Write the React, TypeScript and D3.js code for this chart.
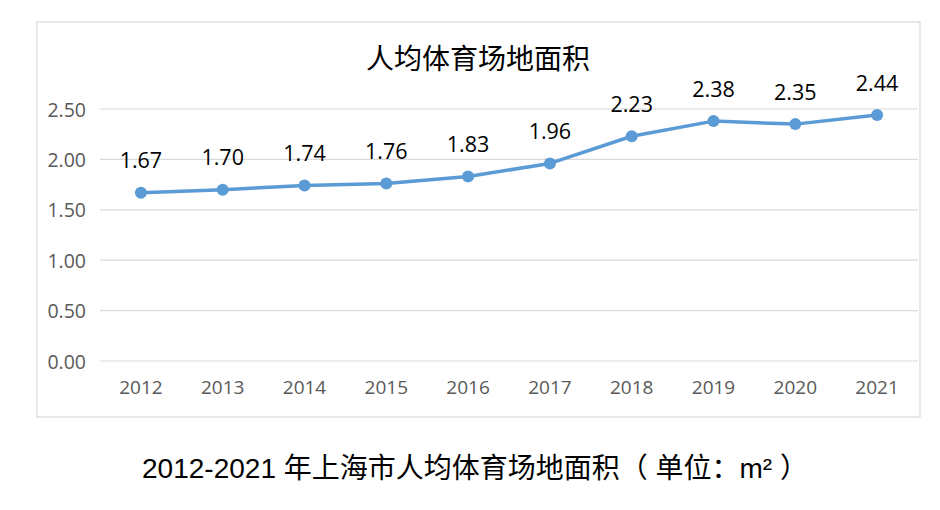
import React from "react";
import * as d3 from "d3";

const years = ["2012","2013","2014","2015","2016","2017","2018","2019","2020","2021"];
const values = [1.67,1.70,1.74,1.76,1.83,1.96,2.23,2.38,2.35,2.44];
const yTicks = [0, 0.5, 1.0, 1.5, 2.0, 2.5];
const chartTitle = "人均体育场地面积";
const caption = "2012-2021 年上海市人均体育场地面积（ 单位：m² ）";

export default function App() {
  const W = 940, H = 510;
  const x = d3.scaleBand<string>().domain(years).range([100, 918]);
  const y = d3.scaleLinear().domain([0, 2.5]).range([361, 109]);
  const line = d3.line<number>()
    .x((_, i) => (x(years[i]) as number) + x.bandwidth() / 2)
    .y(d => y(d));
  const font = "'Open Sans', 'Noto Sans', sans-serif";
  const cjk = "'Noto Sans CJK SC', sans-serif";
  return (
    <svg width={W} height={H} style={{ position: "absolute", left: 0, top: 0 }}>
      <rect x={0} y={0} width={W} height={H} fill="#fff" />
      <rect x={37} y={22} width={883} height={395} fill="#fff" stroke="#d9d9d9" strokeWidth={1.2} />
      <text x={478} y={57} textAnchor="middle" dominantBaseline="central" fontFamily={cjk} fontSize={28} fill="#000">{chartTitle}</text>
      {yTicks.map(t => (
        <g key={t}>
          <line x1={100} x2={918} y1={y(t)} y2={y(t)} stroke="#d9d9d9" strokeWidth={1.2} />
          <text x={86} y={y(t)} textAnchor="end" dominantBaseline="central" fontFamily={font} fontSize={19.5} fill="#595959">{t.toFixed(2)}</text>
        </g>
      ))}
      {years.map(yr => (
        <text key={yr} x={(x(yr) as number) + x.bandwidth() / 2} y={387} textAnchor="middle" dominantBaseline="central" fontFamily={font} fontSize={19} fill="#595959">{yr}</text>
      ))}
      <path d={line(values) || ""} fill="none" stroke="#5b9bd5" strokeWidth={3.5} strokeLinejoin="round" strokeLinecap="round" />
      {values.map((v, i) => {
        const cx = (x(years[i]) as number) + x.bandwidth() / 2;
        return (
          <g key={i}>
            <circle cx={cx} cy={y(v)} r={6} fill="#5b9bd5" />
            <text x={cx} y={y(v) - 33} textAnchor="middle" dominantBaseline="central" fontFamily={font} fontSize={21.5} fill="#000">{v.toFixed(2)}</text>
          </g>
        );
      })}
      <text x={475} y={468} textAnchor="middle" dominantBaseline="central" fontFamily={"'Liberation Sans', 'Noto Sans CJK SC', sans-serif"} fontSize={28} fill="#000">{caption}</text>
    </svg>
  );
}
